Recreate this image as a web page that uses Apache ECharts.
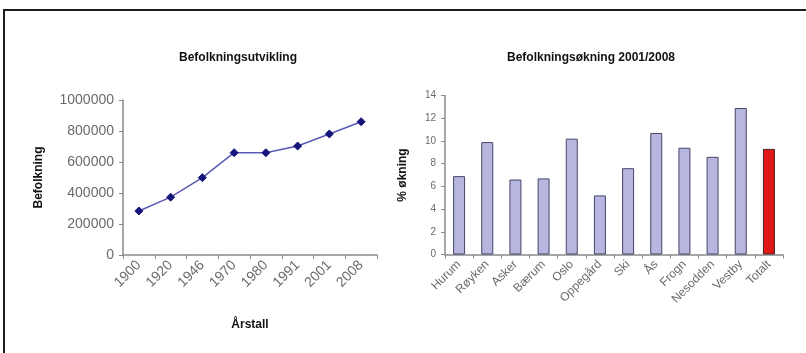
<!DOCTYPE html>
<html><head><meta charset="utf-8">
<script src="https://cdn.jsdelivr.net/npm/echarts@6/dist/echarts.min.js"></script>
<style>html,body{margin:0;padding:0;background:#fff}#c{width:806px;height:353px}</style>
</head><body><div id="c"></div>
<script>
const years = ['1900','1920','1946','1970','1980','1991','2001','2008'];
const population = [284000, 373000, 499000, 660000, 660000, 703000, 781000, 860000];
const popTicks = {min: 0, max: 1000000, interval: 200000};

const places = ['Hurum','Røyken','Asker','Bærum','Oslo','Oppegård','Ski','Ås','Frogn','Nesodden','Vestby','Totalt'];
const growth = [6.9, 9.9, 6.6, 6.7, 10.2, 5.2, 7.6, 10.7, 9.4, 8.6, 12.9, 9.3];
const growthTicks = {min: 0, max: 14, interval: 2};

const FONT = '"Liberation Sans", Arial, sans-serif';
const axisGray = '#8a8a8a';
const labelGray = '#6a6a6a';

const chart = echarts.init(document.getElementById('c'), null, {renderer: 'canvas'});
chart.setOption({
  animation: false,
  backgroundColor: '#fff',
  graphic: [{
    type: 'rect', shape: {x: 4, y: 10, width: 900, height: 400},
    style: {fill: 'none', stroke: '#1e1e1e', lineWidth: 2}
  }],
  title: [
    {text: 'Befolkningsutvikling', left: 233, top: 47, textAlign: 'center',
     textStyle: {fontFamily: FONT, fontSize: 12, fontWeight: 'bold', color: '#111'}},
    {text: 'Befolkningsøkning 2001/2008', left: 586, top: 47, textAlign: 'center',
     textStyle: {fontFamily: FONT, fontSize: 12, fontWeight: 'bold', color: '#111'}}
  ],
  grid: [
    {left: 123, right: 806 - 377, top: 100, bottom: 353 - 255, containLabel: false},
    {left: 445, right: 806 - 783, top: 95.5, bottom: 353 - 254.5, containLabel: false}
  ],
  xAxis: [
    {type: 'category', gridIndex: 0, data: years, boundaryGap: true,
     name: 'Årstall', nameLocation: 'middle', nameGap: 64,
     nameTextStyle: {fontFamily: FONT, fontSize: 12, fontWeight: 'bold', color: '#111'},
     axisLine: {lineStyle: {color: axisGray, width: 1.5}},
     axisTick: {show: true, length: 4, lineStyle: {color: axisGray}},
     axisLabel: {rotate: 45, fontFamily: FONT, fontSize: 14, color: labelGray, margin: 8, interval: 0}},
    {type: 'category', gridIndex: 1, data: places, boundaryGap: true,
     axisLine: {lineStyle: {color: axisGray, width: 1.5}},
     axisTick: {show: true, length: 4, lineStyle: {color: axisGray}},
     axisLabel: {rotate: 45, fontFamily: FONT, fontSize: 12, color: labelGray, margin: 8, interval: 0}}
  ],
  yAxis: [
    {type: 'value', gridIndex: 0, min: popTicks.min, max: popTicks.max, interval: popTicks.interval,
     name: 'Befolkning', nameLocation: 'middle', nameGap: 78, nameRotate: 90,
     nameTextStyle: {fontFamily: FONT, fontSize: 12, fontWeight: 'bold', color: '#111'},
     axisLine: {show: true, lineStyle: {color: axisGray, width: 1.5}},
     axisTick: {show: true, length: 4, lineStyle: {color: axisGray}},
     splitLine: {show: false},
     axisLabel: {fontFamily: FONT, fontSize: 14, color: labelGray, margin: 9,
                 formatter: v => String(v)}},
    {type: 'value', gridIndex: 1, min: growthTicks.min, max: growthTicks.max, interval: growthTicks.interval,
     name: '% økning', nameLocation: 'middle', nameGap: 36, nameRotate: 90,
     nameTextStyle: {fontFamily: FONT, fontSize: 12, fontWeight: 'bold', color: '#111'},
     axisLine: {show: true, lineStyle: {color: axisGray, width: 1.5}},
     axisTick: {show: true, length: 4, lineStyle: {color: axisGray}},
     splitLine: {show: false},
     axisLabel: {fontFamily: FONT, fontSize: 10, color: labelGray, margin: 9}}
  ],
  series: [
    {type: 'line', xAxisIndex: 0, yAxisIndex: 0, data: population,
     symbol: 'diamond', symbolSize: 8,
     lineStyle: {color: '#5a5ab4', width: 1.5},
     itemStyle: {color: '#14147a', borderColor: '#14147a'}},
    {type: 'bar', xAxisIndex: 1, yAxisIndex: 1, barWidth: 12,
     data: growth.map((v, i) => ({
       value: v,
       itemStyle: i === places.length - 1
         ? {color: '#e01818', borderColor: '#4a2020', borderWidth: 1}
         : {color: '#b6b6de', borderColor: '#45456a', borderWidth: 1}
     }))}
  ]
});
</script></body></html>
